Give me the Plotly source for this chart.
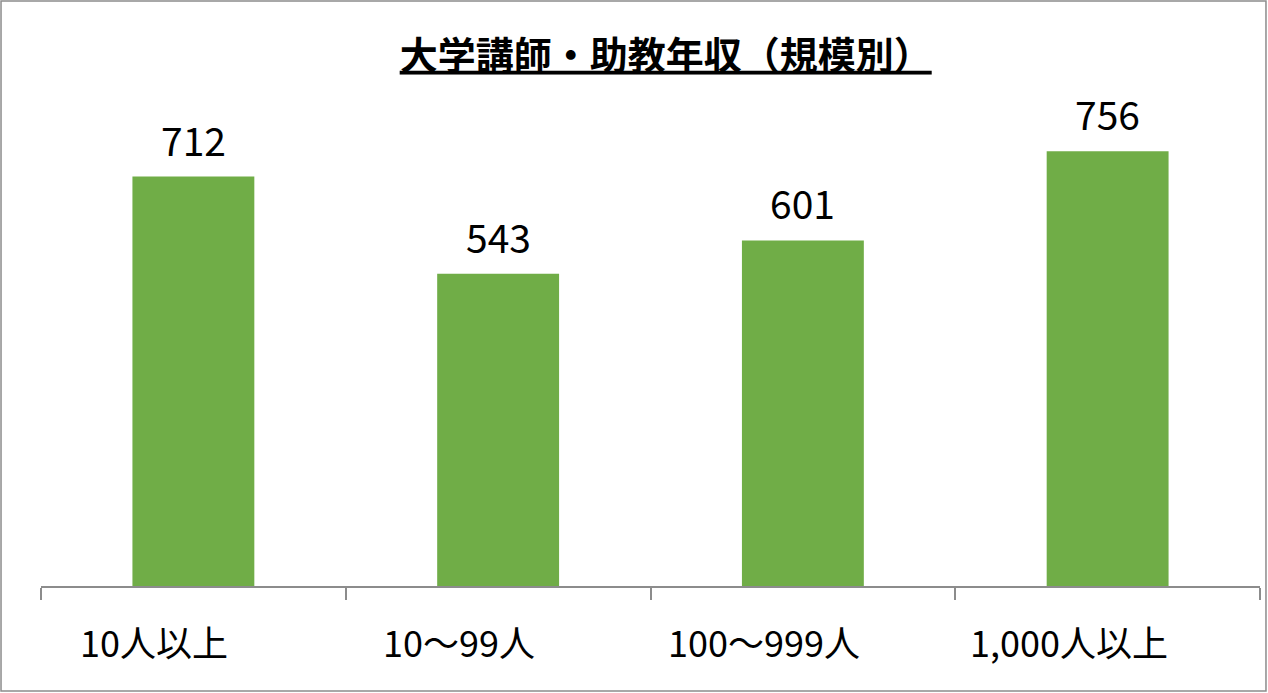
import plotly.graph_objects as go

categories = ["10人以上", "10～99人", "100～999人", "1,000人以上"]
salaries = [712, 543, 601, 756]

FONT = "Noto Sans CJK JP"
GREEN = "#70AD47"
GREY = "#8c8c8c"

fig = go.Figure()
fig.add_trace(go.Bar(
    x=categories, y=salaries,
    marker=dict(color=GREEN, line=dict(width=0)),
    hoverinfo="x+y",
))

# value labels above each bar
for cat, val in zip(categories, salaries):
    fig.add_annotation(
        x=cat, y=val, text=str(val), showarrow=False,
        yanchor="bottom", yshift=8,
        font=dict(family=FONT, size=39, color="#000000"),
    )

# category labels (sit a little left of bar centre in the original)
for cat in categories:
    fig.add_annotation(
        x=cat, y=0, yref="paper", text=cat, showarrow=False,
        yanchor="middle", yshift=-55, xshift=-39,
        font=dict(family=FONT, size=36, color="#000000"),
    )

# chart border
fig.add_shape(
    type="rect", xref="paper", yref="paper",
    x0=-0.0328, x1=1.0049, y0=-0.228, y1=1.2717,
    line=dict(color=GREY, width=1.5), fillcolor="rgba(0,0,0,0)",
)

fig.update_layout(
    width=1268, height=693,
    margin=dict(l=41, r=8, t=126, b=107),
    paper_bgcolor="white", plot_bgcolor="white",
    bargap=0.6,
    showlegend=False,
    font=dict(family=FONT, color="#000000"),
    title=dict(
        text="<b><u>大学講師・助教年収（規模別）</u></b>",
        x=0.525, xanchor="center", y=0.92, yanchor="middle",
        font=dict(family=FONT, size=38, color="#000000"),
    ),
    xaxis=dict(
        showline=True, linecolor=GREY, linewidth=1.5,
        ticks="outside", tickson="boundaries", ticklen=12,
        tickcolor=GREY, tickwidth=1.5,
        showticklabels=False,
        showgrid=False,
    ),
    yaxis=dict(
        range=[0, 800], visible=False, showgrid=False, zeroline=False,
    ),
)

# drop the page margin so the figure sits at the window corner
fig.write_html(
    "out.html",
    config={"displayModeBar": False},
    post_script="document.body.style.margin='0px';",
)
